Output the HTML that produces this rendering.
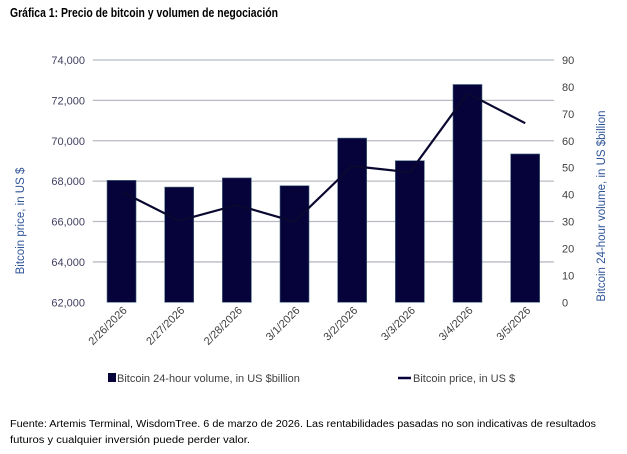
<!DOCTYPE html>
<html><head><meta charset="utf-8"><style>
body{margin:0;background:#fff}
svg{display:block;font-family:"Liberation Sans",sans-serif}
</style></head><body>
<svg id="c" width="627" height="454" viewBox="0 0 627 454">
<text x="10" y="17" font-size="12.5" font-weight="bold" fill="#000" textLength="268" lengthAdjust="spacingAndGlyphs">Gráfica 1: Precio de bitcoin y volumen de negociación</text>
<g id="grid"></g><g id="bars"></g><g id="line"></g><g id="axes"></g>
<text transform="translate(24,221) rotate(-90)" text-anchor="middle" font-size="11.5" fill="#2f5597">Bitcoin price, in US $</text>
<text transform="translate(605,206) rotate(-90)" text-anchor="middle" font-size="11.5" fill="#2f5597">Bitcoin 24-hour volume, in US $billion</text>
<g>
<rect x="108" y="373" width="8" height="9" fill="#05033a"/>
<text x="117" y="382" font-size="11" fill="#404040">Bitcoin 24-hour volume, in US $billion</text>
<line x1="398" y1="378" x2="411" y2="378" stroke="#05033a" stroke-width="2.5"/>
<text x="413" y="382" font-size="11" fill="#404040">Bitcoin price, in US $</text>
</g>
<text x="10" y="427" font-size="10" fill="#000" textLength="586" lengthAdjust="spacingAndGlyphs">Fuente: Artemis Terminal, WisdomTree. 6 de marzo de 2026. Las rentabilidades pasadas no son indicativas de resultados</text>
<text x="10" y="443" font-size="10" fill="#000" textLength="240" lengthAdjust="spacingAndGlyphs">futuros y cualquier inversión puede perder valor.</text>
</svg>
<script>
const categories=["2/26/2026","2/27/2026","2/28/2026","3/1/2026","3/2/2026","3/3/2026","3/4/2026","3/5/2026"];
const volumes=[45.3,42.8,46.2,43.3,61.0,52.6,80.9,55.1];
const prices=[67480,66040,66820,65990,68750,68440,72350,70870];
const priceTicks=[62000,64000,66000,68000,70000,72000,74000];
const volumeTicks=[0,10,20,30,40,50,60,70,80,90];
const NS="http://www.w3.org/2000/svg";
const X0=92.7,X1=554,Y0=302.3,Y1=60;
const step=(X1-X0)/categories.length;
const xc=i=>X0+step*(i+0.5);
const yP=v=>Y0-(v-62000)/12000*(Y0-Y1);
const yV=v=>Y0-v/90*(Y0-Y1);
function mk(tag,attrs,parent){const e=document.createElementNS(NS,tag);for(const k in attrs)e.setAttribute(k,attrs[k]);parent.appendChild(e);return e;}
const grid=document.getElementById('grid'),bars=document.getElementById('bars'),line=document.getElementById('line'),axes=document.getElementById('axes');
priceTicks.forEach(t=>{
 const y=yP(t);
 if(t>62000){const g=mk('line',{x1:X0,x2:X1,y1:y,y2:y,stroke:'#b8bcc2','stroke-width':1.3},grid);
 
 }
 const l=mk('text',{x:85,y:y+4,'text-anchor':'end','font-size':11,fill:'#404060'},axes);
 l.textContent=t.toLocaleString('en-US');
 
 
});
volumeTicks.forEach(t=>{
 const l=mk('text',{x:562,y:yV(t)+4,'font-size':11,fill:'#404040'},axes);
 l.textContent=t;
 
 
});
volumes.forEach((v,i)=>{
 const b=mk('rect',{x:xc(i)-14.5,y:yV(v),width:29,height:Y0-yV(v),fill:'#05033a',stroke:'#4a6a80','stroke-width':0.6},bars);
 
 
});
const pts=prices.map((p,i)=>xc(i).toFixed(1)+','+yP(p).toFixed(1)).join(' ');
const pl=mk('polyline',{points:pts,fill:'none',stroke:'#0a0830','stroke-width':2.2,'stroke-linejoin':'round'},line);


categories.forEach((c,i)=>{
 const x=xc(i)+6,y=311;
 const t=mk('text',{x:x,y:y,'text-anchor':'end','font-size':11,fill:'#404040',transform:`rotate(-45 ${x} ${y})`},axes);
 t.textContent=c;
 
 
});
</script>
</body></html>
